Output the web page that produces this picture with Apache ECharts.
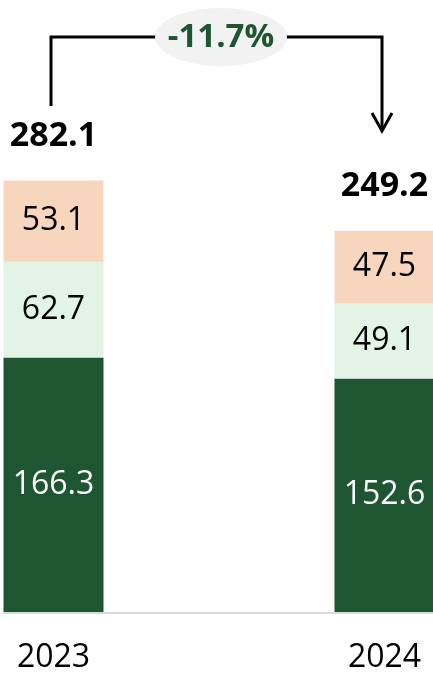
<!doctype html>
<html lang="en">
<head>
  <meta charset="UTF-8">
  <title>2023 vs 2024</title>
  <script src="https://cdn.jsdelivr.net/npm/echarts@6/dist/echarts.min.js"></script>
  <style>
    * {
      margin: 0;
      padding: 0;
    }

    #chart {
      width: 433px;
      height: 675px;
    }
  </style>
</head>
<body>
<div id="chart"></div>
<script>
  const years = ['2023', '2024']
  const bottomValues = [166.3, 152.6]
  const middleValues = [62.7, 49.1]
  const topValues = [53.1, 47.5]
  const totals = [282.1, 249.2]
  const changeText = '-11.7%'

  const font = 'Open Sans'
  const chart = echarts.init(document.getElementById('chart'))

  function segment(name, data, color, textColor) {
    return {
      name: name,
      type: 'bar',
      stack: 'total',
      data: data,
      barWidth: 100,
      clip: false,
      itemStyle: {color: color},
      label: {
        show: true,
        position: 'inside',
        color: textColor,
        fontFamily: font,
        fontSize: 32
      }
    }
  }

  // categories sit on the grid edges, bars hang out over them
  const option = {
    animation: false,
    grid: {left: 53.5, right: 48.5, top: 153, bottom: 63},
    xAxis: {
      type: 'category',
      data: years,
      boundaryGap: false,
      axisLine: {show: false},
      axisTick: {show: false},
      axisLabel: {color: '#000', fontFamily: font, fontSize: 32, margin: 30}
    },
    yAxis: {
      type: 'value',
      min: 0,
      max: 300,
      show: false
    },
    series: [
      segment('bottom', bottomValues, '#1e5631', '#fff'),
      segment('middle', middleValues, '#e2f4e5', '#000'),
      segment('top', topValues, '#f8d5bd', '#000'),
      {
        name: 'total',
        type: 'bar',
        data: totals,
        barWidth: 100,
        barGap: '-100%',
        clip: false,
        silent: true,
        z: 1,
        itemStyle: {color: 'rgba(0,0,0,0)'},
        label: {
          show: true,
          position: 'top',
          distance: 27,
          color: '#000',
          fontFamily: font,
          fontWeight: 'bold',
          fontSize: 34
        }
      }
    ],
    graphic: [
      {
        type: 'line',
        shape: {x1: 3, y1: 613, x2: 433, y2: 613},
        style: {stroke: '#d9d9d9', lineWidth: 2}
      },
      {
        type: 'polyline',
        shape: {points: [[51, 106], [51, 37], [382, 37], [382, 131]]},
        style: {stroke: '#000', lineWidth: 3, fill: null}
      },
      {
        type: 'polyline',
        shape: {points: [[372, 113], [382, 131], [392, 113]]},
        style: {stroke: '#000', lineWidth: 3, fill: null}
      },
      {
        type: 'ellipse',
        shape: {cx: 221, cy: 37, rx: 66, ry: 29},
        style: {fill: '#f2f2f2'}
      },
      {
        type: 'text',
        x: 221,
        y: 38,
        style: {
          text: changeText,
          fill: '#1e5631',
          font: 'bold 33px "Open Sans"',
          align: 'center',
          verticalAlign: 'middle'
        }
      }
    ]
  }
  chart.setOption(option)
</script>
</body>
</html>
